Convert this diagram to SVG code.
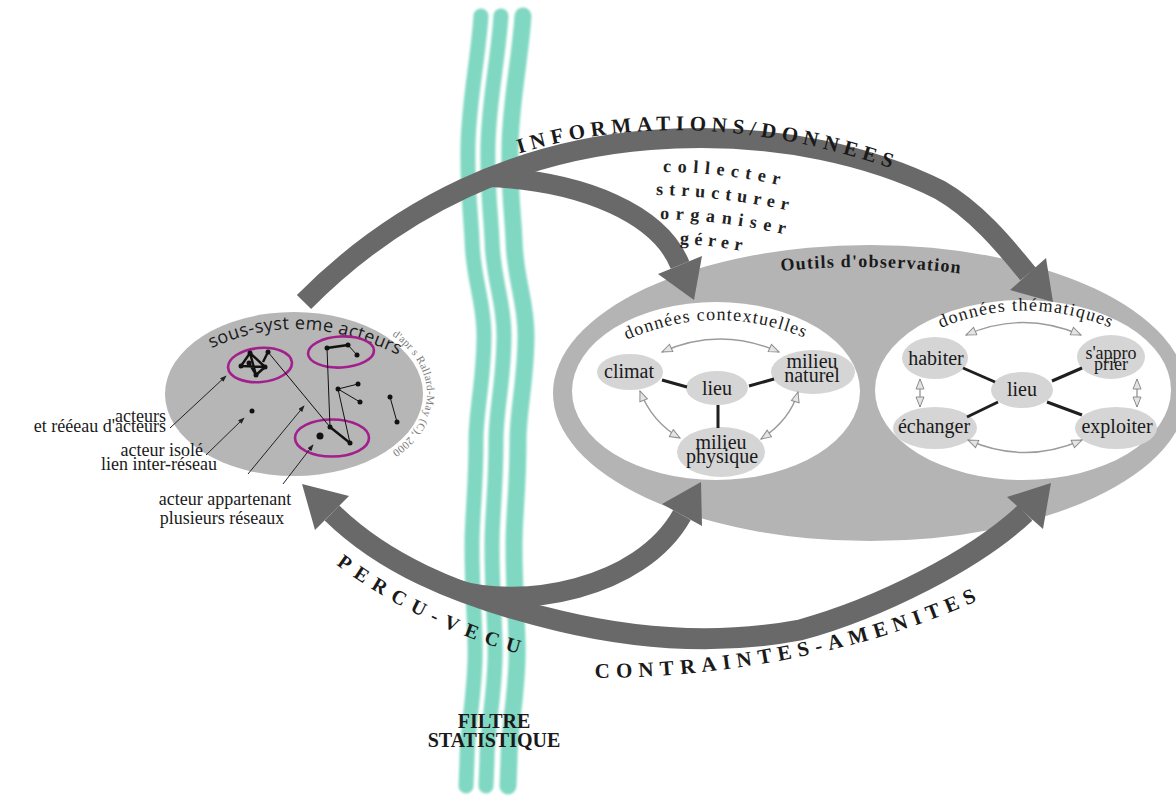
<svg xmlns="http://www.w3.org/2000/svg" width="1176" height="805" viewBox="0 0 1176 805">
<defs>
<style>
text{font-family:"Liberation Serif","Times New Roman",serif;fill:#1a1a1a}
.serif{font-family:"Liberation Serif","Times New Roman",serif}
.sans{font-family:"Open Sans","Liberation Sans",Arial,sans-serif}
.river{fill:none;stroke:#80d8c3;stroke-width:15;stroke-linecap:round}
.band{fill:none;stroke:#696969;stroke-width:20}
.head{fill:#696969}
.node{fill:#d5d5d5}
.lbl{font-family:"Liberation Serif","Times New Roman",serif;font-size:20px;text-anchor:middle}
.tie{stroke:#1f1f1f;stroke-width:3}
.soft{fill:none;stroke:#9c9c9c;stroke-width:1.4;marker-start:url(#hollow);marker-end:url(#hollow)}
.net{stroke:#111;stroke-width:1;fill:none}
.netb{stroke:#111;stroke-width:2.4;fill:none;stroke-linejoin:round}
.dot{fill:#111}
.ring{fill:none;stroke:#a21f8c;stroke-width:2.6}
.lead{stroke:#222;stroke-width:1;marker-end:url(#tiny)}
.note{font-family:"Liberation Serif","Times New Roman",serif;font-size:18px;text-anchor:end}
.cap{font-family:"Liberation Serif","Times New Roman",serif;font-weight:bold}
.verb{font-family:"Liberation Serif","Times New Roman",serif;font-size:18px;font-weight:bold;fill:#222}
</style>
<marker id="hollow" viewBox="0 0 12 10" refX="11" refY="5" markerWidth="12" markerHeight="10" markerUnits="userSpaceOnUse" orient="auto-start-reverse">
<path d="M1,1 L11,5 L1,9 z" fill="#e4e4e4" stroke="#8c8c8c" stroke-width="1"/>
</marker>
<marker id="tiny" viewBox="0 0 8 6" refX="7" refY="3" markerWidth="7" markerHeight="5" markerUnits="userSpaceOnUse" orient="auto">
<path d="M0,0 L8,3 L0,6 z" fill="#222"/>
</marker>
<filter id="blur" x="-20%" y="-5%" width="140%" height="110%"><feGaussianBlur stdDeviation="1.3"/></filter>
<path id="riv" d="M481,16 C478,60 469,100 468,145 C467,190 471,215 472,240 C473,280 484,300 484,335 C484,380 476,410 476,440 C476,490 472,515 472,545 C472,600 476,630 475,660 C474,700 467,730 467,760 L466,786"/>
<path id="tpInfo" d="M505,158 Q690,95 910,175"/>
<path id="tpPercu" d="M333,562 Q420,628 530,657"/>
<path id="tpContr" d="M585,678 C680,679 845,664 992,594"/>
<path id="tpSous" d="M208,350 Q300,305 402,357"/>
<path id="tpCredit" d="M379.5,327.6 A133 86 0 0 1 379.5,459.4"/>
<path id="tpCtx" d="M620,343 Q715,298 812,341"/>
<path id="tpThem" d="M934,331 Q1025,290 1118,331"/>
<path id="tpOutils" d="M781,271 Q872,262 965,274"/>
<path id="tpC1" d="M663,172 Q725,172 792,188"/>
<path id="tpC2" d="M656,195 Q725,196 800,213"/>
<path id="tpC3" d="M660,219 Q725,220 797,237"/>
<path id="tpC4" d="M680,244 Q715,245 757,254"/>
</defs>

<rect width="1176" height="805" fill="#ffffff"/>

<g id="filtre-statistique">
<g filter="url(#blur)">
<use href="#riv" class="river"/>
<use href="#riv" class="river" x="20"/>
<use href="#riv" class="river" x="42" style="stroke-width:17"/>
</g>
<text class="cap" font-size="20" text-anchor="middle" x="494" y="728">FILTRE</text>
<text class="cap" font-size="20" text-anchor="middle" x="494" y="747">STATISTIQUE</text>
</g>

<g id="outils-observation">
<ellipse cx="870" cy="393" rx="317" ry="148" fill="#b4b4b4"/>
<text class="cap" font-size="18" letter-spacing="1.2"><textPath href="#tpOutils">Outils d'observation</textPath></text>
</g>

<g id="donnees-contextuelles">
<ellipse cx="716" cy="391" rx="144" ry="89" fill="#ffffff"/>
<text class="serif" font-size="18" letter-spacing="1.2"><textPath href="#tpCtx" startOffset="50%" text-anchor="middle">données contextuelles</textPath></text>
</g>

<g id="donnees-thematiques">
<ellipse cx="1023" cy="390" rx="148" ry="90" fill="#ffffff"/>
<text class="serif" font-size="18" letter-spacing="1.3"><textPath href="#tpThem" startOffset="50%" text-anchor="middle">données thématiques</textPath></text>
</g>

<g id="acteurs">
<ellipse cx="294" cy="394" rx="129" ry="82" fill="#b6b6b6"/>
<text class="sans" font-size="18" letter-spacing="0.4"><textPath href="#tpSous" startOffset="50%" text-anchor="middle">sous-syst eme acteurs</textPath></text>
<text class="serif" font-size="11" style="fill:#7a7a7a" letter-spacing="0.3"><textPath href="#tpCredit" startOffset="50%" text-anchor="middle">d'apr s Rallard-May (C), 2000</textPath></text>
<ellipse cx="260" cy="365" rx="32" ry="17" transform="rotate(-5 260 365)" class="ring"/>
<ellipse cx="341" cy="352" rx="33" ry="15.5" transform="rotate(-3 341 352)" class="ring"/>
<ellipse cx="332" cy="438" rx="37" ry="18.5" class="ring"/>
<path class="netb" d="M250,353 L241,366 L265,367 L250,353 L256,375 L265,367 M249,363 L256,375 M268,352 L263,362 M327,348 L348,345 M330,427 L350,443"/>
<path class="net" d="M268,352 L330,427 M348,345 L357,355 M327,348 L330,427 M338,389 L358,384 M338,389 L360,402 M338,389 L350,443 M390,397 L397,422"/>
<g class="dot">
<circle cx="250" cy="353" r="2.5"/><circle cx="241" cy="366" r="2.5"/><circle cx="249" cy="363" r="2.5"/><circle cx="256" cy="375" r="2.5"/><circle cx="265" cy="367" r="2.5"/><circle cx="268" cy="352" r="2.5"/>
<circle cx="327" cy="348" r="2.5"/><circle cx="348" cy="345" r="2.5"/><circle cx="357" cy="355" r="2.5"/>
<circle cx="338" cy="389" r="2.5"/><circle cx="358" cy="384" r="2.5"/><circle cx="360" cy="402" r="2.5"/>
<circle cx="390" cy="397" r="2.5"/><circle cx="397" cy="422" r="2.5"/>
<circle cx="252" cy="411" r="2.5"/>
<circle cx="330" cy="427" r="2.5"/><circle cx="320" cy="436" r="3.5"/><circle cx="350" cy="443" r="2.5"/>
</g>
<text class="note" x="166" y="422">acteurs</text>
<text class="note" x="166" y="432">et rééeau d'acteurs</text>
<text class="note" x="203" y="456">acteur isolé</text>
<text class="note" x="217" y="470">lien inter-réseau</text>
<text class="serif" font-size="18" text-anchor="middle" x="225" y="505">acteur appartenant</text>
<text class="serif" font-size="18" text-anchor="middle" x="222" y="524">plusieurs réseaux</text>
</g>

<g id="climat"><ellipse class="node" cx="630" cy="372" rx="33" ry="18"/><text class="lbl" x="629" y="378">climat</text></g>
<g id="lieu-ctx"><ellipse class="node" cx="717" cy="388" rx="31" ry="17"/><text class="lbl" x="717" y="395">lieu</text></g>
<g id="milieu-naturel"><ellipse class="node" cx="813" cy="372" rx="42" ry="22"/><text class="lbl"><tspan x="812" y="368">milieu</tspan><tspan x="812" y="382">naturel</tspan></text></g>
<g id="milieu-physique"><ellipse class="node" cx="721" cy="452" rx="44" ry="25"/><text class="lbl"><tspan x="721" y="449">milieu</tspan><tspan x="722" y="463">physique</tspan></text></g>

<g id="habiter"><ellipse class="node" cx="935" cy="358" rx="33" ry="21"/><text class="lbl" x="936" y="365">habiter</text></g>
<g id="approprier"><ellipse class="node" cx="1111" cy="357" rx="34" ry="22"/><text class="lbl" style="font-size:18px"><tspan x="1111" y="359">s'appro</tspan><tspan x="1111" y="370">prier</tspan></text></g>
<g id="lieu-them"><ellipse class="node" cx="1022" cy="390" rx="31" ry="18"/><text class="lbl" x="1022" y="396">lieu</text></g>
<g id="echanger"><ellipse class="node" cx="935" cy="428" rx="42" ry="21"/><text class="lbl" x="934" y="433">échanger</text></g>
<g id="exploiter"><ellipse class="node" cx="1116" cy="428" rx="41" ry="21"/><text class="lbl" x="1117" y="433">exploiter</text></g>

<g id="connectors">
<path class="band" d="M304,302 C400,205 520,150 650,140 C780,130 880,160 940,190 C975,210 1003,243 1028,274"/>
<polygon class="head" points="1053,302 1010,290 1046,258"/>
<path class="band" d="M488,177 C585,181 660,215 680,265"/>
<polygon class="head" points="694,300 658,274 702,256"/>
<path class="band" style="stroke-width:21" d="M332,513 C380,560 450,595 560,621 C640,640 720,645 800,630 C880,608 975,560 1025,513"/>
<polygon class="head" points="302,484 349,496 315,530"/>
<polygon class="head" points="1051,483 1043,529 1007,497"/>
<path class="band" d="M455,589 C520,610 640,590 682,515"/>
<polygon class="head" points="701,482 702,526 662,504"/>

<line class="tie" x1="662" y1="380" x2="687" y2="387"/>
<line class="tie" x1="749" y1="386" x2="774" y2="379"/>
<line class="tie" x1="718" y1="405" x2="718" y2="428"/>
<line class="tie" x1="963" y1="368" x2="995" y2="382"/>
<line class="tie" x1="1082" y1="368" x2="1052" y2="381"/>
<line class="tie" x1="998" y1="402" x2="967" y2="417"/>
<line class="tie" x1="1047" y1="402" x2="1082" y2="415"/>

<path class="soft" d="M662,352 Q720,326 779,352"/>
<path class="soft" d="M640,391 Q652,422 680,438"/>
<path class="soft" d="M798,392 Q790,420 761,439"/>
<path class="soft" d="M966,335 Q1023,310 1081,335"/>
<path class="soft" d="M920,379 L920,407"/>
<path class="soft" d="M1137,379 L1137,407"/>
<path class="soft" d="M968,440 Q1025,465 1082,440"/>

<line class="lead" x1="170" y1="428" x2="226" y2="376"/>
<line class="lead" x1="206" y1="455" x2="244" y2="418"/>
<line class="lead" x1="248" y1="474" x2="304" y2="406"/>
<line class="lead" x1="283" y1="484" x2="313" y2="445"/>
</g>

<g id="labels">
<text class="cap" font-size="21" letter-spacing="5.5"><textPath href="#tpInfo" startOffset="50%" text-anchor="middle">INFORMATIONS/DONNEES</textPath></text>
<text class="cap" font-size="20" letter-spacing="8"><textPath href="#tpPercu" startOffset="50%" text-anchor="middle">PERCU-VECU</textPath></text>
<text class="cap" font-size="21" letter-spacing="6.3"><textPath href="#tpContr" startOffset="50%" text-anchor="middle">CONTRAINTES-AMENITES</textPath></text>
<text class="verb" letter-spacing="6.5"><textPath href="#tpC1">collecter</textPath></text>
<text class="verb" letter-spacing="6"><textPath href="#tpC2">structurer</textPath></text>
<text class="verb" letter-spacing="6.6"><textPath href="#tpC3">organiser</textPath></text>
<text class="verb" letter-spacing="5.4"><textPath href="#tpC4">gérer</textPath></text>
</g>
</svg>
